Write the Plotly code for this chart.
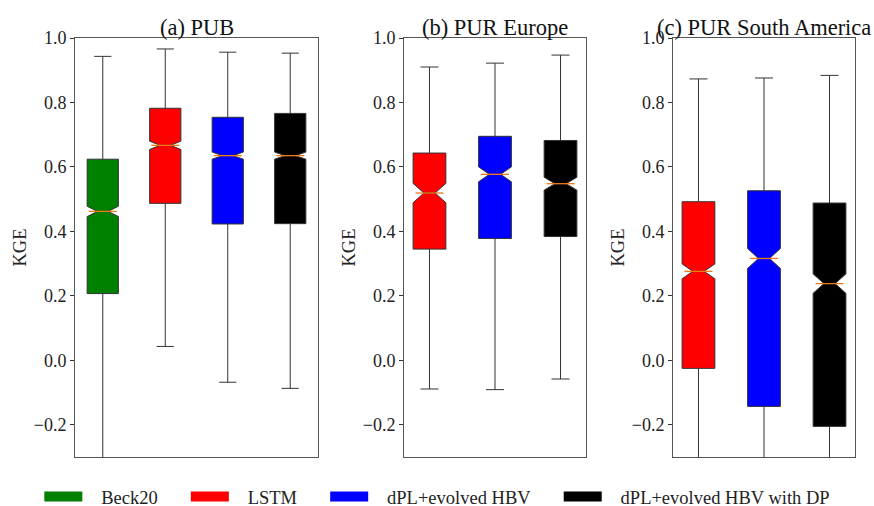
import plotly.graph_objects as go

# ---------------- data ----------------
models = ["Beck20", "LSTM", "dPL+evolved HBV", "dPL+evolved HBV with DP"]
colors = ["#008000", "#ff0000", "#0000ff", "#000000"]

panel_titles = ["(a) PUB", "(b) PUR Europe", "(c) PUR South America"]

# panel (a) PUB : Beck20, LSTM, dPL+evolved HBV, dPL+evolved HBV with DP
pub_models = ["Beck20", "LSTM", "dPL+evolved HBV", "dPL+evolved HBV with DP"]
pub_lower = [-0.50, 0.043, -0.068, -0.087]
pub_q1 = [0.207, 0.487, 0.423, 0.424]
pub_median = [0.462, 0.667, 0.635, 0.635]
pub_q3 = [0.624, 0.782, 0.754, 0.766]
pub_upper = [0.943, 0.966, 0.956, 0.953]
pub_notch = [0.016, 0.013, 0.011, 0.011]

# panel (b) PUR Europe
eu_models = ["LSTM", "dPL+evolved HBV", "dPL+evolved HBV with DP"]
eu_lower = [-0.089, -0.091, -0.058]
eu_q1 = [0.345, 0.378, 0.384]
eu_median = [0.519, 0.577, 0.548]
eu_q3 = [0.643, 0.695, 0.682]
eu_upper = [0.910, 0.922, 0.947]
eu_notch = [0.030, 0.023, 0.020]

# panel (c) PUR South America
sa_models = ["LSTM", "dPL+evolved HBV", "dPL+evolved HBV with DP"]
sa_lower = [-0.50, -0.50, -0.50]
sa_q1 = [-0.025, -0.143, -0.205]
sa_median = [0.276, 0.316, 0.238]
sa_q3 = [0.492, 0.526, 0.488]
sa_upper = [0.873, 0.876, 0.884]
sa_notch = [0.023, 0.031, 0.030]

y_ticks = [-0.2, 0.0, 0.2, 0.4, 0.6, 0.8, 1.0]
y_range = [-0.3, 1.0]

panels = [
    (pub_models, pub_lower, pub_q1, pub_median, pub_q3, pub_upper, pub_notch),
    (eu_models, eu_lower, eu_q1, eu_median, eu_q3, eu_upper, eu_notch),
    (sa_models, sa_lower, sa_q1, sa_median, sa_q3, sa_upper, sa_notch),
]

# ---------------- layout geometry ----------------
W, H = 874, 506
x_domains = [(75 / W, 318 / W), (404 / W, 586 / W), (673 / W, 855 / W)]
y_domain = (1 - 457 / H, 1 - 38 / H)

FONT = "Liberation Serif, Times New Roman, serif"
AX_COLOR = "#555555"
MED_COLOR = "#f07818"
NB = "\u00a0"

fig = go.Figure()
for i, (names, lo, q1, med, q3, up, notch) in enumerate(panels):
    xa = "x" if i == 0 else f"x{i + 1}"
    ya = "y" if i == 0 else f"y{i + 1}"
    for j, name in enumerate(names):
        col = colors[models.index(name)]
        fig.add_trace(go.Box(
            x=[name], q1=[q1[j]], median=[med[j]], q3=[q3[j]],
            lowerfence=[lo[j]], upperfence=[up[j]], notchspan=[notch[j]],
            notched=True, notchwidth=0.33, whiskerwidth=0.55, width=0.5,
            fillcolor=col, line=dict(color="#333333", width=1),
            boxpoints=False, name=name, showlegend=False,
            xaxis=xa, yaxis=ya,
        ))
    fig.add_trace(go.Scatter(
        x=names, y=med, mode="markers", xaxis=xa, yaxis=ya,
        marker=dict(symbol="line-ew", size=20, color=MED_COLOR,
                    line=dict(color=MED_COLOR, width=1.3)),
        showlegend=False, hoverinfo="skip",
    ))

# legend entries (wide colour swatches, like the reference)
for k, (name, col) in enumerate(zip(models, colors)):
    label = NB * 3 + name + (NB * 5 if k < len(models) - 1 else "")
    fig.add_trace(go.Scatter(
        x=[None], y=[None], mode="lines", name=label,
        line=dict(color=col, width=13), showlegend=True,
    ))

layout = dict(
    width=W, height=H,
    margin=dict(l=0, r=0, t=0, b=0, autoexpand=False),
    paper_bgcolor="white", plot_bgcolor="white",
    font=dict(family=FONT, size=18, color="#222222"),
    boxmode="overlay",
    showlegend=True,
    legend=dict(orientation="h", x=0.045, y=1 - 497 / H, xanchor="left", yanchor="middle",
                font=dict(size=18.5, family=FONT, color="#222222"),
                traceorder="normal", itemwidth=38),
)
for i in range(3):
    sfx = "" if i == 0 else str(i + 1)
    layout[f"xaxis{sfx}"] = dict(
        domain=list(x_domains[i]), anchor=f"y{sfx}", type="category",
        showticklabels=False, ticks="", showgrid=False, zeroline=False,
        showline=True, linecolor=AX_COLOR, linewidth=1, mirror=True,
        fixedrange=True, automargin=False,
    )
    layout[f"yaxis{sfx}"] = dict(
        domain=list(y_domain), anchor=f"x{sfx}", range=y_range,
        tickvals=y_ticks, tickformat=".1f", ticks="outside", ticklen=4,
        tickcolor="#333333", showgrid=False, zeroline=False,
        showline=True, linecolor=AX_COLOR, linewidth=1, mirror=True,
        title=dict(text="KGE", font=dict(size=18.5, family=FONT), standoff=2),
        tickfont=dict(size=18, family=FONT), automargin=False,
    )
fig.update_layout(**layout)

for i, t in enumerate(panel_titles):
    cx = (x_domains[i][0] + x_domains[i][1]) / 2
    fig.add_annotation(text=t, x=cx, y=y_domain[1], xref="paper", yref="paper",
                       xanchor="center", yanchor="bottom", showarrow=False, yshift=-4,
                       font=dict(size=22.5, family=FONT, color="#111111"))

fig.write_html("out.html", config={"displayModeBar": False},
               post_script="document.body.style.margin='0';document.body.style.overflow='hidden';")
